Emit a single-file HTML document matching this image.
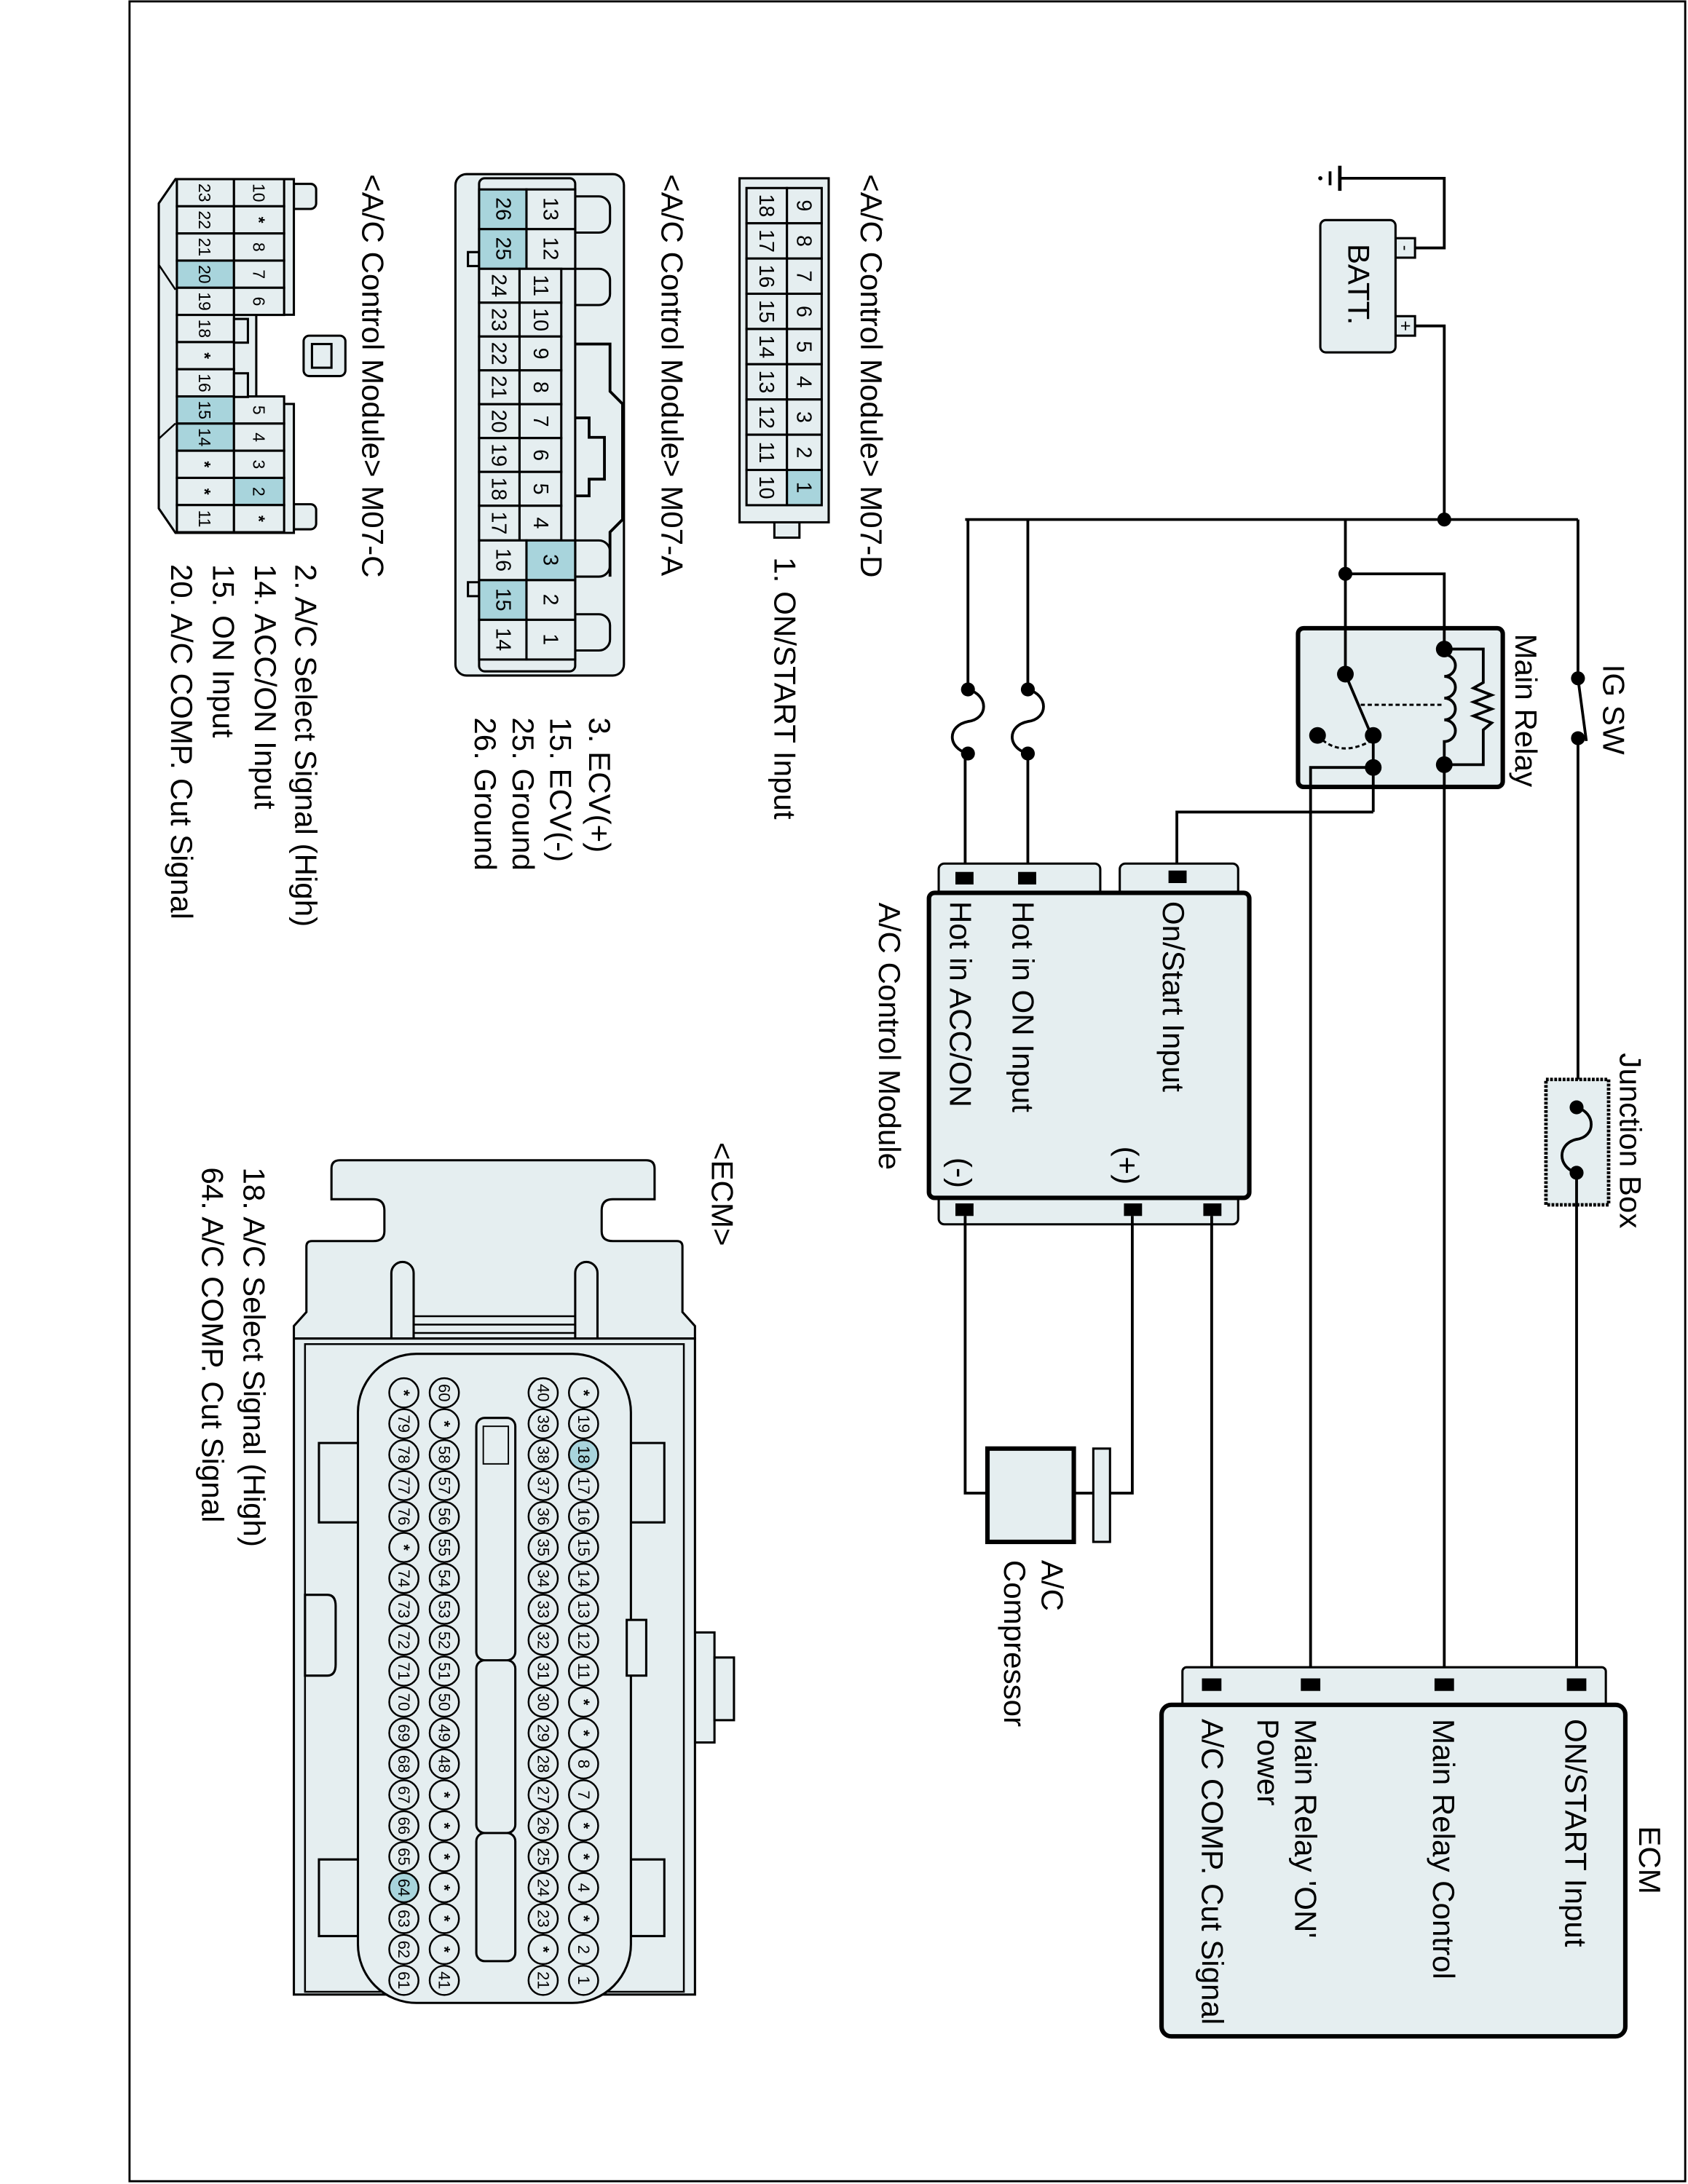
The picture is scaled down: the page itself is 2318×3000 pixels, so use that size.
<!DOCTYPE html>
<html><head><meta charset="utf-8">
<style>
html,body{margin:0;padding:0;background:#fff;}
svg{display:block;}
text{font-family:"Liberation Sans",sans-serif;fill:#000;}
.lb{font-size:22px;}
.n{font-size:15px;text-anchor:middle;dominant-baseline:central;}
.s{font-size:12px;text-anchor:middle;dominant-baseline:central;}
.p{font-size:11.5px;text-anchor:middle;dominant-baseline:central;}
.w{stroke:#000;stroke-width:2;fill:none;}
.f{fill:#e5eef0;stroke:#000;stroke-width:1.6;}
.b{fill:#e5eef0;stroke:#000;stroke-width:3.2;}
.h{fill:#a8d4dc;stroke:#000;stroke-width:1.6;}
.c{fill:#e5eef0;stroke:#000;stroke-width:1.3;}
.ch{fill:#a8d4dc;stroke:#000;stroke-width:1.3;}
</style></head>
<body>
<svg width="2318" height="3000" viewBox="0 0 1212 1568" preserveAspectRatio="none" xmlns="http://www.w3.org/2000/svg">
<rect x="0" y="0" width="1212" height="1568" fill="#fff"/>
<rect x="93" y="1" width="1117" height="1565" fill="none" stroke="#000" stroke-width="1.5"/>

<!-- ===== Battery & ground ===== -->
<line x1="962" y1="119" x2="962" y2="137" stroke="#000" stroke-width="2.5"/>
<line x1="955" y1="123" x2="955" y2="133" stroke="#000" stroke-width="2"/>
<circle cx="948" cy="128" r="1.5" fill="#000"/>
<polyline class="w" points="962,128 1037,128 1037,178 1016,178"/>
<polyline class="w" points="1016,234 1037,234 1037,373"/>
<rect x="1002" y="171" width="14" height="14" class="f"/>
<rect x="1002" y="227" width="14" height="14" class="f"/>
<text x="1009" y="178" font-size="12" text-anchor="middle" dominant-baseline="central" transform="rotate(90 1009 178)">-</text>
<text x="1009" y="234" font-size="13" text-anchor="middle" dominant-baseline="central" transform="rotate(90 1009 234)">+</text>
<rect x="948" y="158" width="54" height="95" rx="4" class="f" stroke-width="2"/>
<text class="lb" transform="translate(968,175) rotate(90)">BATT.</text>

<!-- ===== main bus ===== -->
<line class="w" x1="693" y1="373" x2="1133" y2="373"/>
<circle cx="1037" cy="373" r="5" fill="#000"/>

<!-- IG SW -->
<line class="w" x1="1133" y1="373" x2="1133" y2="487"/>
<circle cx="1133" cy="487" r="5" fill="#000"/>
<line x1="1133" y1="487" x2="1139" y2="532" stroke="#000" stroke-width="2"/>
<circle cx="1133" cy="530" r="5" fill="#000"/>
<line class="w" x1="1133" y1="530" x2="1133" y2="795"/>
<text class="lb" transform="translate(1151,477) rotate(90)">IG SW</text>

<!-- Junction box -->
<rect x="1110" y="775" width="45" height="90" fill="#e5eef0" stroke="#000" stroke-width="2.5" stroke-dasharray="2 1"/>
<circle cx="1132" cy="795" r="5" fill="#000"/>
<circle cx="1132" cy="842" r="5" fill="#000"/>
<path class="w" d="M1132,795 C1146,799 1146,816 1132,818 C1118,821 1118,838 1132,842"/>
<line class="w" x1="1132" y1="842" x2="1132" y2="1205"/>
<text class="lb" transform="translate(1163,756) rotate(90)">Junction Box</text>

<!-- Main relay -->
<rect x="932" y="451" width="147" height="114" rx="4" class="b"/>
<text class="lb" transform="translate(1088,455) rotate(90)">Main Relay</text>
<line class="w" x1="966" y1="373" x2="966" y2="484"/>
<circle cx="966" cy="412" r="5" fill="#000"/>
<polyline class="w" points="966,412 1037,412 1037,466"/>
<circle cx="1037" cy="466" r="6" fill="#000"/>
<path class="w" d="M1037,470 a8,7.8 0 0 1 0,15.6 a8,7.8 0 0 1 0,15.6 a8,7.8 0 0 1 0,15.6 a8,7.8 0 0 1 0,15.6 L1037,548"/>
<circle cx="1037" cy="549" r="6" fill="#000"/>
<polyline class="w" points="1037,466 1065,466 1065,490 1058,494 1071,499 1058,504 1071,509 1058,514 1071,519 1065,524 1065,549 1037,549"/>
<line class="w" x1="1037" y1="549" x2="1037" y2="1205"/>
<circle cx="966" cy="484" r="6" fill="#000"/>
<line x1="966" y1="484" x2="983" y2="524" stroke="#000" stroke-width="2"/>
<line x1="977" y1="506" x2="1037" y2="506" stroke="#000" stroke-width="1.6" stroke-dasharray="3 2"/>
<circle cx="986" cy="528" r="6" fill="#000"/>
<circle cx="946" cy="528" r="6" fill="#000"/>
<path d="M946,528 Q962,545 986,531" fill="none" stroke="#000" stroke-width="1.6" stroke-dasharray="3 2"/>
<line class="w" x1="986" y1="528" x2="986" y2="583"/>
<circle cx="986" cy="551" r="6" fill="#000"/>
<polyline class="w" points="986,551 941,551 941,1205"/>
<polyline class="w" points="986,583 845,583 845,626"/>

<!-- fuses to A/C module -->
<line class="w" x1="695" y1="373" x2="695" y2="495"/>
<line class="w" x1="738" y1="373" x2="738" y2="495"/>
<circle cx="695" cy="495" r="5" fill="#000"/>
<circle cx="695" cy="541" r="5" fill="#000"/>
<circle cx="738" cy="495" r="5" fill="#000"/>
<circle cx="738" cy="541" r="5" fill="#000"/>
<path class="w" d="M695,495 C710,499 710,516 695,518 C680,521 680,537 695,541"/>
<path class="w" d="M738,495 C753,499 753,516 738,518 C723,521 723,537 738,541"/>
<line class="w" x1="693" y1="541" x2="693" y2="626"/>
<line class="w" x1="738" y1="541" x2="738" y2="626"/>

<!-- ===== A/C Control Module ===== -->
<rect x="674" y="620" width="116" height="26" rx="4" class="f"/>
<rect x="804" y="620" width="85" height="26" rx="4" class="f"/>
<rect x="674" y="850" width="215" height="29" rx="4" class="f"/>
<rect x="667" y="641" width="230" height="219" rx="4" class="b"/>
<rect x="686" y="626" width="13" height="9" fill="#000"/>
<rect x="731" y="626" width="13" height="9" fill="#000"/>
<rect x="839" y="625" width="13" height="9" fill="#000"/>
<rect x="686" y="864" width="13" height="9" fill="#000"/>
<rect x="807" y="864" width="13" height="9" fill="#000"/>
<rect x="864" y="864" width="13" height="9" fill="#000"/>
<text class="lb" transform="translate(835,647) rotate(90)">On/Start Input</text>
<text class="lb" transform="translate(727,647) rotate(90)">Hot in ON Input</text>
<text class="lb" transform="translate(682,647) rotate(90)">Hot in ACC/ON</text>
<text class="lb" transform="translate(802,823) rotate(90)">(+)</text>
<text class="lb" transform="translate(682,831) rotate(90)">(-)</text>
<text class="lb" transform="translate(631,648) rotate(90)">A/C Control Module</text>

<!-- compressor -->
<polyline class="w" points="693,873 693,1072 709,1072"/>
<polyline class="w" points="813,873 813,1072 797,1072"/>
<line class="w" x1="772" y1="1072" x2="785" y2="1072"/>
<rect x="709" y="1040" width="62" height="67" class="b"/>
<rect x="785" y="1040" width="12" height="67" class="f" stroke-width="2.5"/>
<text class="lb" transform="translate(748,1120) rotate(90)">A/C</text>
<text class="lb" transform="translate(721,1120) rotate(90)">Compressor</text>
<line class="w" x1="870" y1="873" x2="870" y2="1205"/>

<!-- ===== ECM ===== -->
<rect x="849" y="1197" width="304" height="30" rx="3" class="f"/>
<rect x="834" y="1224" width="333" height="238" rx="7" class="b"/>
<rect x="863" y="1205" width="14" height="9" fill="#000"/>
<rect x="934" y="1205" width="14" height="9" fill="#000"/>
<rect x="1030" y="1205" width="14" height="9" fill="#000"/>
<rect x="1125" y="1205" width="14" height="9" fill="#000"/>
<text class="lb" transform="translate(1124,1234) rotate(90)">ON/START Input</text>
<text class="lb" transform="translate(1029,1234) rotate(90)">Main Relay Control</text>
<text class="lb" transform="translate(930,1234) rotate(90)">Main Relay 'ON'</text>
<text class="lb" transform="translate(903,1234) rotate(90)">Power</text>
<text class="lb" transform="translate(863,1234) rotate(90)">A/C COMP. Cut Signal</text>
<text class="lb" transform="translate(1177,1311) rotate(90)">ECM</text>

<!-- ===== M07-D ===== -->
<text class="lb" transform="translate(618,125) rotate(90)">&lt;A/C Control Module&gt; M07-D</text>
<rect x="556" y="370" width="18" height="16" class="f"/>
<rect x="531" y="128" width="64" height="247" class="f" stroke-width="2.2"/>
<g>
<rect x="565" y="135" width="25" height="25.3" class="f"/><rect x="565" y="160.3" width="25" height="25.3" class="f"/><rect x="565" y="185.6" width="25" height="25.3" class="f"/><rect x="565" y="210.9" width="25" height="25.3" class="f"/><rect x="565" y="236.2" width="25" height="25.3" class="f"/><rect x="565" y="261.5" width="25" height="25.3" class="f"/><rect x="565" y="286.8" width="25" height="25.3" class="f"/><rect x="565" y="312.1" width="25" height="25.3" class="f"/><rect x="565" y="337.4" width="25" height="25.3" class="h"/>
<rect x="536" y="135" width="29" height="25.3" class="f"/><rect x="536" y="160.3" width="29" height="25.3" class="f"/><rect x="536" y="185.6" width="29" height="25.3" class="f"/><rect x="536" y="210.9" width="29" height="25.3" class="f"/><rect x="536" y="236.2" width="29" height="25.3" class="f"/><rect x="536" y="261.5" width="29" height="25.3" class="f"/><rect x="536" y="286.8" width="29" height="25.3" class="f"/><rect x="536" y="312.1" width="29" height="25.3" class="f"/><rect x="536" y="337.4" width="29" height="25.3" class="f"/>
</g>
<text class="n" transform="translate(577,147.6) rotate(90)">9</text>
<text class="n" transform="translate(577,173) rotate(90)">8</text>
<text class="n" transform="translate(577,198.3) rotate(90)">7</text>
<text class="n" transform="translate(577,223.6) rotate(90)">6</text>
<text class="n" transform="translate(577,248.9) rotate(90)">5</text>
<text class="n" transform="translate(577,274.1) rotate(90)">4</text>
<text class="n" transform="translate(577,299.5) rotate(90)">3</text>
<text class="n" transform="translate(577,324.8) rotate(90)">2</text>
<text class="n" transform="translate(577,350) rotate(90)">1</text>
<text class="n" transform="translate(550,147.6) rotate(90)">18</text>
<text class="n" transform="translate(550,173) rotate(90)">17</text>
<text class="n" transform="translate(550,198.3) rotate(90)">16</text>
<text class="n" transform="translate(550,223.6) rotate(90)">15</text>
<text class="n" transform="translate(550,248.9) rotate(90)">14</text>
<text class="n" transform="translate(550,274.1) rotate(90)">13</text>
<text class="n" transform="translate(550,299.5) rotate(90)">12</text>
<text class="n" transform="translate(550,324.8) rotate(90)">11</text>
<text class="n" transform="translate(550,350) rotate(90)">10</text>
<text class="lb" transform="translate(556,400) rotate(90)">1. ON/START Input</text>

<!-- ===== M07-A ===== -->
<text class="lb" transform="translate(475,125) rotate(90)">&lt;A/C Control Module&gt; M07-A</text>
<rect x="327" y="125" width="121" height="360" rx="8" class="f" stroke-width="2"/>
<path class="f" d="M413,141 h17 a8,8 0 0 1 8,8 v10 a8,8 0 0 1 -8,8 h-17z M413,193 h17 a8,8 0 0 1 8,8 v10 a8,8 0 0 1 -8,8 h-17z M413,441 h17 a8,8 0 0 1 8,8 v10 a8,8 0 0 1 -8,8 h-17z M413,388 h17 a8,8 0 0 1 8,8 v10 a8,8 0 0 1 -8,8 h-17z"/>
<polyline class="w" stroke-width="1.5" points="413,247 438,247 438,281 447,290 447,373 438,382 438,414"/>
<polyline class="w" stroke-width="1.5" points="413,300 423,300 423,314 434,314 434,344 423,344 423,356 413,356"/>
<path class="f" d="M344,181 h-8 v10 h8z M344,418 h-8 v10 h8z"/>
<rect x="344" y="128" width="69" height="354" rx="4" class="f"/>
<rect x="378" y="136" width="35" height="28.5" class="f"/><rect x="378" y="164.5" width="35" height="28.5" class="f"/>
<rect x="344" y="136" width="34" height="28.5" class="h"/><rect x="344" y="164.5" width="34" height="28.5" class="h"/>
<rect x="373" y="193" width="30" height="24.3" class="f"/><rect x="373" y="217.3" width="30" height="24.3" class="f"/><rect x="373" y="241.6" width="30" height="24.3" class="f"/><rect x="373" y="265.9" width="30" height="24.3" class="f"/><rect x="373" y="290.2" width="30" height="24.3" class="f"/><rect x="373" y="314.5" width="30" height="24.3" class="f"/><rect x="373" y="338.8" width="30" height="24.3" class="f"/><rect x="373" y="363.1" width="30" height="24.9" class="f"/>
<rect x="344" y="193" width="29" height="24.3" class="f"/><rect x="344" y="217.3" width="29" height="24.3" class="f"/><rect x="344" y="241.6" width="29" height="24.3" class="f"/><rect x="344" y="265.9" width="29" height="24.3" class="f"/><rect x="344" y="290.2" width="29" height="24.3" class="f"/><rect x="344" y="314.5" width="29" height="24.3" class="f"/><rect x="344" y="338.8" width="29" height="24.3" class="f"/><rect x="344" y="363.1" width="29" height="24.9" class="f"/>
<rect x="378" y="388" width="35" height="28.5" class="h"/><rect x="378" y="416.5" width="35" height="28.5" class="f"/><rect x="378" y="445" width="35" height="28.5" class="f"/>
<rect x="344" y="388" width="34" height="28.5" class="f"/><rect x="344" y="416.5" width="34" height="28.5" class="h"/><rect x="344" y="445" width="34" height="28.5" class="f"/>
<text class="n" transform="translate(395,150) rotate(90)">13</text>
<text class="n" transform="translate(395,178.5) rotate(90)">12</text>
<text class="n" transform="translate(388,205) rotate(90)">11</text>
<text class="n" transform="translate(388,229.5) rotate(90)">10</text>
<text class="n" transform="translate(388,253.8) rotate(90)">9</text>
<text class="n" transform="translate(388,278) rotate(90)">8</text>
<text class="n" transform="translate(388,302.4) rotate(90)">7</text>
<text class="n" transform="translate(388,326.7) rotate(90)">6</text>
<text class="n" transform="translate(388,351) rotate(90)">5</text>
<text class="n" transform="translate(388,375.5) rotate(90)">4</text>
<text class="n" transform="translate(395,402) rotate(90)">3</text>
<text class="n" transform="translate(395,430.5) rotate(90)">2</text>
<text class="n" transform="translate(395,459) rotate(90)">1</text>
<text class="n" transform="translate(361,150) rotate(90)">26</text>
<text class="n" transform="translate(361,178.5) rotate(90)">25</text>
<text class="n" transform="translate(358,205) rotate(90)">24</text>
<text class="n" transform="translate(358,229.5) rotate(90)">23</text>
<text class="n" transform="translate(358,253.8) rotate(90)">22</text>
<text class="n" transform="translate(358,278) rotate(90)">21</text>
<text class="n" transform="translate(358,302.4) rotate(90)">20</text>
<text class="n" transform="translate(358,326.7) rotate(90)">19</text>
<text class="n" transform="translate(358,351) rotate(90)">18</text>
<text class="n" transform="translate(358,375.5) rotate(90)">17</text>
<text class="n" transform="translate(361,402) rotate(90)">16</text>
<text class="n" transform="translate(361,430.5) rotate(90)">15</text>
<text class="n" transform="translate(361,459) rotate(90)">14</text>
<text class="lb" transform="translate(423,515) rotate(90)">3. ECV(+)</text>
<text class="lb" transform="translate(395,515) rotate(90)">15. ECV(-)</text>
<text class="lb" transform="translate(368,515) rotate(90)">25. Ground</text>
<text class="lb" transform="translate(341,515) rotate(90)">26. Ground</text>

<!-- ===== M07-C ===== -->
<text class="lb" transform="translate(260,125) rotate(90)">&lt;A/C Control Module&gt; M07-C</text>
<path class="f" d="M211,132 h12 a4,4 0 0 1 4,4 v10 a4,4 0 0 1 -4,4 h-12z M211,362 h12 a4,4 0 0 1 4,4 v10 a4,4 0 0 1 -4,4 h-12z"/>
<rect x="218" y="241" width="30" height="29" rx="4" class="f"/>
<rect x="224" y="247" width="14" height="17" class="f" stroke-width="1"/>
<path class="f" d="M126,128.6 H211 V226 H184 V290 H211 V382.6 H126 L114,365 V146 Z"/>
<line x1="114" y1="190" x2="126" y2="208" stroke="#000" stroke-width="1.3"/>
<line x1="114" y1="315" x2="126" y2="304" stroke="#000" stroke-width="1.3"/>
<rect x="127" y="128.6" width="41" height="19.5" class="f"/><rect x="127" y="148.1" width="41" height="19.5" class="f"/><rect x="127" y="167.6" width="41" height="19.5" class="f"/><rect x="127" y="187.1" width="41" height="19.5" class="h"/><rect x="127" y="206.6" width="41" height="19.5" class="f"/><rect x="127" y="226.1" width="41" height="19.5" class="f"/><rect x="127" y="245.6" width="41" height="19.5" class="f"/><rect x="127" y="265.1" width="41" height="19.5" class="f"/><rect x="127" y="284.6" width="41" height="19.5" class="h"/><rect x="127" y="304.1" width="41" height="19.5" class="h"/><rect x="127" y="323.6" width="41" height="19.5" class="f"/><rect x="127" y="343.1" width="41" height="19.5" class="f"/><rect x="127" y="362.6" width="41" height="19.5" class="f"/>
<rect x="168" y="128.6" width="36" height="19.5" class="f"/><rect x="168" y="148.1" width="36" height="19.5" class="f"/><rect x="168" y="167.6" width="36" height="19.5" class="f"/><rect x="168" y="187.1" width="36" height="19.5" class="f"/><rect x="168" y="206.6" width="36" height="19.5" class="f"/>
<rect x="168" y="284.6" width="36" height="19.5" class="f"/><rect x="168" y="304.1" width="36" height="19.5" class="f"/><rect x="168" y="323.6" width="36" height="19.5" class="f"/><rect x="168" y="343.1" width="36" height="19.5" class="h"/><rect x="168" y="362.6" width="36" height="19.5" class="f"/>
<rect x="168" y="229" width="10" height="17" class="f" stroke-width="1.2"/><rect x="168" y="268" width="10" height="17" class="f" stroke-width="1.2"/>
<text class="s" transform="translate(186,138.4) rotate(90)">10</text>
<text class="s" transform="translate(186,157.9) rotate(90)" font-weight="bold">*</text>
<text class="s" transform="translate(186,177.4) rotate(90)">8</text>
<text class="s" transform="translate(186,196.9) rotate(90)">7</text>
<text class="s" transform="translate(186,216.4) rotate(90)">6</text>
<text class="s" transform="translate(186,294.4) rotate(90)">5</text>
<text class="s" transform="translate(186,313.9) rotate(90)">4</text>
<text class="s" transform="translate(186,333.4) rotate(90)">3</text>
<text class="s" transform="translate(186,352.9) rotate(90)">2</text>
<text class="s" transform="translate(186,372.4) rotate(90)" font-weight="bold">*</text>
<text class="s" transform="translate(147,138.4) rotate(90)">23</text>
<text class="s" transform="translate(147,157.9) rotate(90)">22</text>
<text class="s" transform="translate(147,177.4) rotate(90)">21</text>
<text class="s" transform="translate(147,196.9) rotate(90)">20</text>
<text class="s" transform="translate(147,216.4) rotate(90)">19</text>
<text class="s" transform="translate(147,235.9) rotate(90)">18</text>
<text class="s" transform="translate(147,255.4) rotate(90)" font-weight="bold">*</text>
<text class="s" transform="translate(147,274.9) rotate(90)">16</text>
<text class="s" transform="translate(147,294.4) rotate(90)">15</text>
<text class="s" transform="translate(147,313.9) rotate(90)">14</text>
<text class="s" transform="translate(147,333.4) rotate(90)" font-weight="bold">*</text>
<text class="s" transform="translate(147,352.9) rotate(90)" font-weight="bold">*</text>
<text class="s" transform="translate(147,372.4) rotate(90)">11</text>
<text class="lb" transform="translate(212,405) rotate(90)">2. A/C Select Signal (High)</text>
<text class="lb" transform="translate(183,405) rotate(90)">14. ACC/ON Input</text>
<text class="lb" transform="translate(153,405) rotate(90)">15. ON Input</text>
<text class="lb" transform="translate(123,405) rotate(90)">20. A/C COMP. Cut Signal</text>

<!-- ===== ECM connector ===== -->
<text class="lb" transform="translate(511,820) rotate(90)">&lt;ECM&gt;</text>
<text class="lb" transform="translate(175,838) rotate(90)">18. A/C Select Signal (High)</text>
<text class="lb" transform="translate(145,838) rotate(90)">64. A/C COMP. Cut Signal</text>
<path class="f" stroke-width="2" d="M238,861 V839 Q238,833 244,833 H464 Q470,833 470,839 V861 H440 Q432,861 432,869 V884 Q432,891 440,891 H486 Q490,891 490,895 V942 L499,952 V961 H211 V952 L220,942 V895 Q220,891 224,891 H268 Q276,891 276,884 V869 Q276,861 268,861 Z"/>
<line x1="297" y1="945" x2="413" y2="945" stroke="#000" stroke-width="1.3"/>
<line x1="297" y1="951" x2="413" y2="951" stroke="#000" stroke-width="1.3"/>
<line x1="297" y1="957" x2="413" y2="957" stroke="#000" stroke-width="1.3"/>
<path class="f" d="M281,961 V914 a8,8 0 0 1 16,0 V961z M413,961 V914 a8,8 0 0 1 16,0 V961z"/>
<rect x="499" y="1172" width="14" height="79" class="f"/>
<rect x="513" y="1190" width="14" height="45" class="f"/>
<rect x="211" y="961" width="288" height="471" class="f" stroke-width="2.2"/>
<rect x="219" y="965" width="272" height="465" fill="none" stroke="#000" stroke-width="1.3"/>
<path class="f" d="M229,1036 h28 v57 h-28z M229,1335 h28 v55 h-28z M453,1036 h24 v57 h-24z M453,1335 h24 v55 h-24z M219,1145 h16 q6,0 6,8 v42 q0,8 -6,8 h-16z"/>
<rect x="257" y="972" width="196" height="466" rx="42" class="f"/>
<rect x="450" y="1163" width="14" height="40" class="f" stroke-width="1.2"/>
<path class="f" d="M342,1024 a6,6 0 0 1 6,-6 h16 a6,6 0 0 1 6,6 V1186 a6,6 0 0 1 -6,6 h-16 a6,6 0 0 1 -6,-6z M342,1198 a6,6 0 0 1 6,-6 h16 a6,6 0 0 1 6,6 V1310 a6,6 0 0 1 -6,6 h-16 a6,6 0 0 1 -6,-6z M342,1322 a6,6 0 0 1 6,-6 h16 a6,6 0 0 1 6,6 V1402 a6,6 0 0 1 -6,6 h-16 a6,6 0 0 1 -6,-6z"/>
<rect x="347" y="1024" width="18" height="27" fill="none" stroke="#000" stroke-width="1"/>

<g transform="translate(419,0)">
<circle cy="1000" r="10.5" class="c"/><text class="p" transform="translate(0,1000) rotate(90)" font-weight="bold">*</text>
<circle cy="1022.2" r="10.5" class="c"/><text class="p" transform="translate(0,1022.2) rotate(90)">19</text>
<circle cy="1044.4" r="10.5" class="ch"/><text class="p" transform="translate(0,1044.4) rotate(90)">18</text>
<circle cy="1066.6" r="10.5" class="c"/><text class="p" transform="translate(0,1066.6) rotate(90)">17</text>
<circle cy="1088.8" r="10.5" class="c"/><text class="p" transform="translate(0,1088.8) rotate(90)">16</text>
<circle cy="1111" r="10.5" class="c"/><text class="p" transform="translate(0,1111) rotate(90)">15</text>
<circle cy="1133.2" r="10.5" class="c"/><text class="p" transform="translate(0,1133.2) rotate(90)">14</text>
<circle cy="1155.4" r="10.5" class="c"/><text class="p" transform="translate(0,1155.4) rotate(90)">13</text>
<circle cy="1177.6" r="10.5" class="c"/><text class="p" transform="translate(0,1177.6) rotate(90)">12</text>
<circle cy="1199.8" r="10.5" class="c"/><text class="p" transform="translate(0,1199.8) rotate(90)">11</text>
<circle cy="1222" r="10.5" class="c"/><text class="p" transform="translate(0,1222) rotate(90)" font-weight="bold">*</text>
<circle cy="1244.2" r="10.5" class="c"/><text class="p" transform="translate(0,1244.2) rotate(90)" font-weight="bold">*</text>
<circle cy="1266.4" r="10.5" class="c"/><text class="p" transform="translate(0,1266.4) rotate(90)">8</text>
<circle cy="1288.6" r="10.5" class="c"/><text class="p" transform="translate(0,1288.6) rotate(90)">7</text>
<circle cy="1310.8" r="10.5" class="c"/><text class="p" transform="translate(0,1310.8) rotate(90)" font-weight="bold">*</text>
<circle cy="1333" r="10.5" class="c"/><text class="p" transform="translate(0,1333) rotate(90)" font-weight="bold">*</text>
<circle cy="1355.2" r="10.5" class="c"/><text class="p" transform="translate(0,1355.2) rotate(90)">4</text>
<circle cy="1377.4" r="10.5" class="c"/><text class="p" transform="translate(0,1377.4) rotate(90)" font-weight="bold">*</text>
<circle cy="1399.6" r="10.5" class="c"/><text class="p" transform="translate(0,1399.6) rotate(90)">2</text>
<circle cy="1421.8" r="10.5" class="c"/><text class="p" transform="translate(0,1421.8) rotate(90)">1</text>
</g>
<g transform="translate(390,0)">
<circle cy="1000" r="10.5" class="c"/><text class="p" transform="translate(0,1000) rotate(90)">40</text>
<circle cy="1022.2" r="10.5" class="c"/><text class="p" transform="translate(0,1022.2) rotate(90)">39</text>
<circle cy="1044.4" r="10.5" class="c"/><text class="p" transform="translate(0,1044.4) rotate(90)">38</text>
<circle cy="1066.6" r="10.5" class="c"/><text class="p" transform="translate(0,1066.6) rotate(90)">37</text>
<circle cy="1088.8" r="10.5" class="c"/><text class="p" transform="translate(0,1088.8) rotate(90)">36</text>
<circle cy="1111" r="10.5" class="c"/><text class="p" transform="translate(0,1111) rotate(90)">35</text>
<circle cy="1133.2" r="10.5" class="c"/><text class="p" transform="translate(0,1133.2) rotate(90)">34</text>
<circle cy="1155.4" r="10.5" class="c"/><text class="p" transform="translate(0,1155.4) rotate(90)">33</text>
<circle cy="1177.6" r="10.5" class="c"/><text class="p" transform="translate(0,1177.6) rotate(90)">32</text>
<circle cy="1199.8" r="10.5" class="c"/><text class="p" transform="translate(0,1199.8) rotate(90)">31</text>
<circle cy="1222" r="10.5" class="c"/><text class="p" transform="translate(0,1222) rotate(90)">30</text>
<circle cy="1244.2" r="10.5" class="c"/><text class="p" transform="translate(0,1244.2) rotate(90)">29</text>
<circle cy="1266.4" r="10.5" class="c"/><text class="p" transform="translate(0,1266.4) rotate(90)">28</text>
<circle cy="1288.6" r="10.5" class="c"/><text class="p" transform="translate(0,1288.6) rotate(90)">27</text>
<circle cy="1310.8" r="10.5" class="c"/><text class="p" transform="translate(0,1310.8) rotate(90)">26</text>
<circle cy="1333" r="10.5" class="c"/><text class="p" transform="translate(0,1333) rotate(90)">25</text>
<circle cy="1355.2" r="10.5" class="c"/><text class="p" transform="translate(0,1355.2) rotate(90)">24</text>
<circle cy="1377.4" r="10.5" class="c"/><text class="p" transform="translate(0,1377.4) rotate(90)">23</text>
<circle cy="1399.6" r="10.5" class="c"/><text class="p" transform="translate(0,1399.6) rotate(90)" font-weight="bold">*</text>
<circle cy="1421.8" r="10.5" class="c"/><text class="p" transform="translate(0,1421.8) rotate(90)">21</text>
</g>
<g transform="translate(319,0)">
<circle cy="1000" r="10.5" class="c"/><text class="p" transform="translate(0,1000) rotate(90)">60</text>
<circle cy="1022.2" r="10.5" class="c"/><text class="p" transform="translate(0,1022.2) rotate(90)" font-weight="bold">*</text>
<circle cy="1044.4" r="10.5" class="c"/><text class="p" transform="translate(0,1044.4) rotate(90)">58</text>
<circle cy="1066.6" r="10.5" class="c"/><text class="p" transform="translate(0,1066.6) rotate(90)">57</text>
<circle cy="1088.8" r="10.5" class="c"/><text class="p" transform="translate(0,1088.8) rotate(90)">56</text>
<circle cy="1111" r="10.5" class="c"/><text class="p" transform="translate(0,1111) rotate(90)">55</text>
<circle cy="1133.2" r="10.5" class="c"/><text class="p" transform="translate(0,1133.2) rotate(90)">54</text>
<circle cy="1155.4" r="10.5" class="c"/><text class="p" transform="translate(0,1155.4) rotate(90)">53</text>
<circle cy="1177.6" r="10.5" class="c"/><text class="p" transform="translate(0,1177.6) rotate(90)">52</text>
<circle cy="1199.8" r="10.5" class="c"/><text class="p" transform="translate(0,1199.8) rotate(90)">51</text>
<circle cy="1222" r="10.5" class="c"/><text class="p" transform="translate(0,1222) rotate(90)">50</text>
<circle cy="1244.2" r="10.5" class="c"/><text class="p" transform="translate(0,1244.2) rotate(90)">49</text>
<circle cy="1266.4" r="10.5" class="c"/><text class="p" transform="translate(0,1266.4) rotate(90)">48</text>
<circle cy="1288.6" r="10.5" class="c"/><text class="p" transform="translate(0,1288.6) rotate(90)" font-weight="bold">*</text>
<circle cy="1310.8" r="10.5" class="c"/><text class="p" transform="translate(0,1310.8) rotate(90)" font-weight="bold">*</text>
<circle cy="1333" r="10.5" class="c"/><text class="p" transform="translate(0,1333) rotate(90)" font-weight="bold">*</text>
<circle cy="1355.2" r="10.5" class="c"/><text class="p" transform="translate(0,1355.2) rotate(90)" font-weight="bold">*</text>
<circle cy="1377.4" r="10.5" class="c"/><text class="p" transform="translate(0,1377.4) rotate(90)" font-weight="bold">*</text>
<circle cy="1399.6" r="10.5" class="c"/><text class="p" transform="translate(0,1399.6) rotate(90)" font-weight="bold">*</text>
<circle cy="1421.8" r="10.5" class="c"/><text class="p" transform="translate(0,1421.8) rotate(90)">41</text>
</g>
<g transform="translate(290,0)">
<circle cy="1000" r="10.5" class="c"/><text class="p" transform="translate(0,1000) rotate(90)" font-weight="bold">*</text>
<circle cy="1022.2" r="10.5" class="c"/><text class="p" transform="translate(0,1022.2) rotate(90)">79</text>
<circle cy="1044.4" r="10.5" class="c"/><text class="p" transform="translate(0,1044.4) rotate(90)">78</text>
<circle cy="1066.6" r="10.5" class="c"/><text class="p" transform="translate(0,1066.6) rotate(90)">77</text>
<circle cy="1088.8" r="10.5" class="c"/><text class="p" transform="translate(0,1088.8) rotate(90)">76</text>
<circle cy="1111" r="10.5" class="c"/><text class="p" transform="translate(0,1111) rotate(90)" font-weight="bold">*</text>
<circle cy="1133.2" r="10.5" class="c"/><text class="p" transform="translate(0,1133.2) rotate(90)">74</text>
<circle cy="1155.4" r="10.5" class="c"/><text class="p" transform="translate(0,1155.4) rotate(90)">73</text>
<circle cy="1177.6" r="10.5" class="c"/><text class="p" transform="translate(0,1177.6) rotate(90)">72</text>
<circle cy="1199.8" r="10.5" class="c"/><text class="p" transform="translate(0,1199.8) rotate(90)">71</text>
<circle cy="1222" r="10.5" class="c"/><text class="p" transform="translate(0,1222) rotate(90)">70</text>
<circle cy="1244.2" r="10.5" class="c"/><text class="p" transform="translate(0,1244.2) rotate(90)">69</text>
<circle cy="1266.4" r="10.5" class="c"/><text class="p" transform="translate(0,1266.4) rotate(90)">68</text>
<circle cy="1288.6" r="10.5" class="c"/><text class="p" transform="translate(0,1288.6) rotate(90)">67</text>
<circle cy="1310.8" r="10.5" class="c"/><text class="p" transform="translate(0,1310.8) rotate(90)">66</text>
<circle cy="1333" r="10.5" class="c"/><text class="p" transform="translate(0,1333) rotate(90)">65</text>
<circle cy="1355.2" r="10.5" class="ch"/><text class="p" transform="translate(0,1355.2) rotate(90)">64</text>
<circle cy="1377.4" r="10.5" class="c"/><text class="p" transform="translate(0,1377.4) rotate(90)">63</text>
<circle cy="1399.6" r="10.5" class="c"/><text class="p" transform="translate(0,1399.6) rotate(90)">62</text>
<circle cy="1421.8" r="10.5" class="c"/><text class="p" transform="translate(0,1421.8) rotate(90)">61</text>
</g>
</svg>
</body></html>
